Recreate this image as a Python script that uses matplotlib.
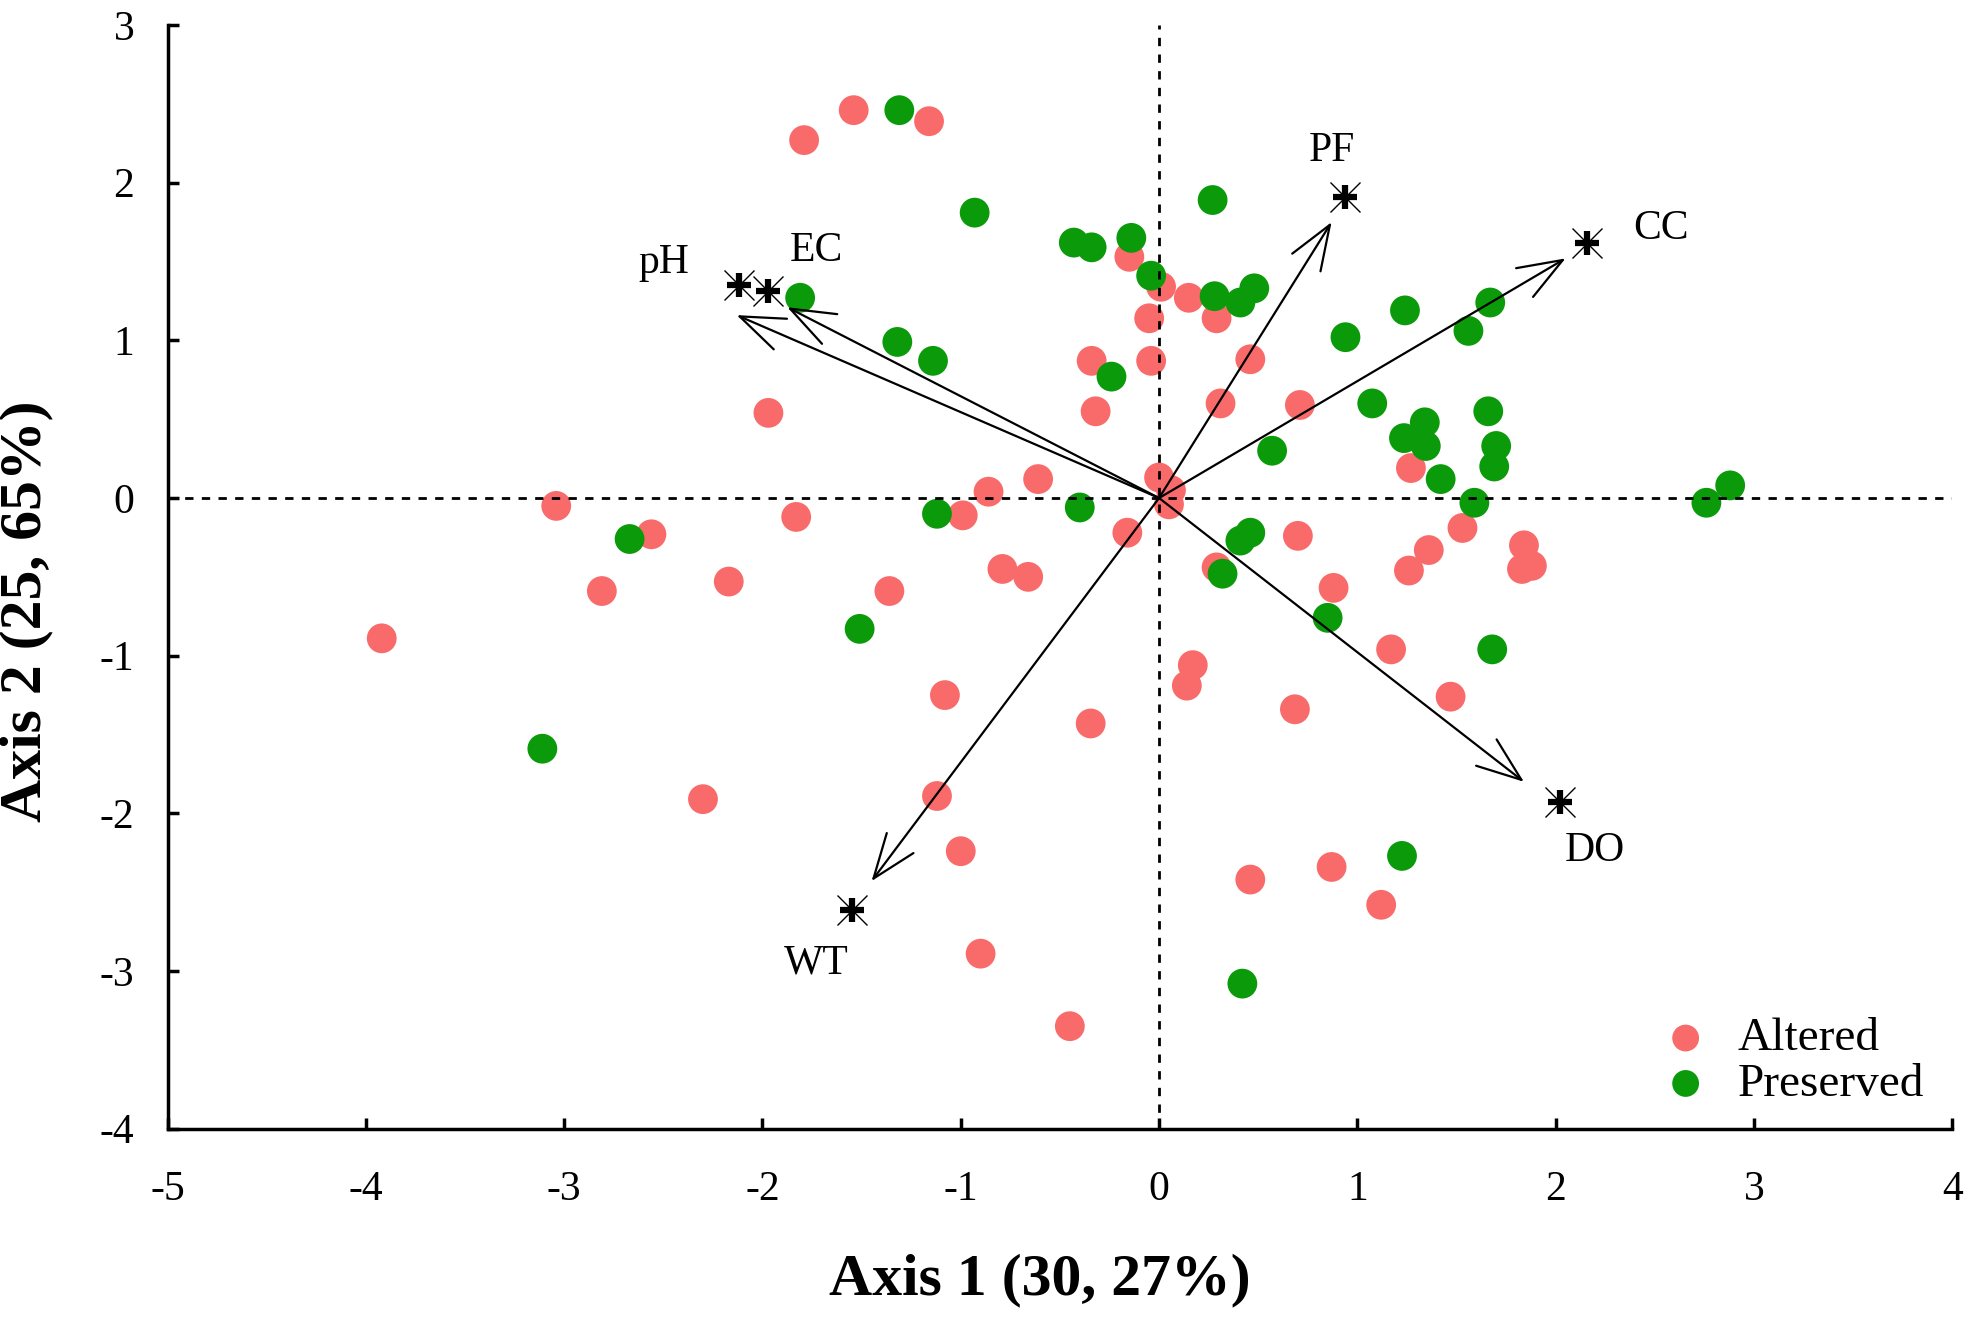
import numpy as np
import matplotlib
matplotlib.use("Agg")
import matplotlib.pyplot as plt

plt.rcParams['font.family'] = ['Liberation Serif', 'DejaVu Serif']
plt.rcParams['axes.unicode_minus'] = False

# site scores (Axis 1, Axis 2)
altered_x = [-1.79, -1.54, -1.16, -1.97, -3.04, -2.56, -1.83, -2.81, -2.17, -3.92,
             -2.30, -0.15, 0.01, 0.15, 0.29, -0.05, -0.34, -0.04, -0.32, 0.46,
             0.31, 0.71, 0.00, 0.06, 0.05, -0.61, -0.86, -0.99, -0.16, 0.70,
             1.27, 1.53, 1.36, 1.26, 1.84, 1.83, 1.88, 1.17, 1.47, 1.12,
             -0.79, -0.66, -1.36, -1.08, -0.345, -1.12, -1.00, -0.90, -0.45, 0.17,
             0.14, 0.685, 0.46, 0.87, 0.29, 0.88]
altered_y = [2.27, 2.46, 2.39, 0.54, -0.05, -0.23, -0.12, -0.59, -0.53, -0.89,
             -1.91, 1.53, 1.34, 1.27, 1.14, 1.14, 0.87, 0.87, 0.55, 0.88,
             0.60, 0.59, 0.13, 0.05, -0.04, 0.12, 0.04, -0.11, -0.22, -0.24,
             0.19, -0.19, -0.33, -0.46, -0.30, -0.45, -0.43, -0.96, -1.26, -2.58,
             -0.45, -0.50, -0.59, -1.25, -1.43, -1.89, -2.24, -2.89, -3.35, -1.06,
             -1.19, -1.34, -2.42, -2.34, -0.44, -0.57]

preserved_x = [-1.81, -2.67, -3.11, -1.31, -0.93, -0.43, -0.34, -0.14, -0.04, 0.28,
               0.41, 0.48, 0.27, -1.32, -1.14, -0.24, 0.57, 0.94, -1.12, -0.40,
               0.46, 0.41, 1.24, 1.67, 1.56, 1.075, 1.66, 1.34, 1.235, 1.345,
               1.70, 1.69, 1.42, 1.59, 2.76, 2.88, 1.68, 1.225, -1.51, 0.32,
               0.85, 0.42]
preserved_y = [1.27, -0.26, -1.59, 2.46, 1.81, 1.62, 1.59, 1.65, 1.41, 1.28,
               1.24, 1.33, 1.89, 0.99, 0.87, 0.77, 0.30, 1.02, -0.10, -0.06,
               -0.22, -0.27, 1.19, 1.24, 1.06, 0.60, 0.55, 0.48, 0.38, 0.33,
               0.33, 0.20, 0.12, -0.03, -0.03, 0.08, -0.96, -2.27, -0.83, -0.48,
               -0.76, -3.08]

# environmental variables
var_names = ['pH', 'EC', 'PF', 'CC', 'DO', 'WT']
var_x = [-2.12, -1.97, 0.94, 2.16, 2.02, -1.55]
var_y = [1.35, 1.31, 1.91, 1.62, -1.93, -2.61]
tip_x = [-2.13, -1.875, 0.87, 2.05, 1.84, -1.45]
tip_y = [1.16, 1.21, 1.75, 1.52, -1.80, -2.43]
lab_x = [-2.50, -1.73, 0.87, 2.53, 2.20, -1.73]
lab_y = [1.49, 1.57, 2.20, 1.71, -2.24, -2.95]

red = '#F96B6B'
green = '#0A9A0A'

fig = plt.figure(figsize=(19.76, 13.17), dpi=100)
ax = fig.add_axes([0.0848, 0.143, 0.9032, 0.838])

ax.scatter(altered_x, altered_y, s=460, color=red, edgecolors='none', zorder=2, label='Altered')
ax.scatter(preserved_x, preserved_y, s=460, color=green, edgecolors='none', zorder=3, label='Preserved')

ax.axhline(0, color='black', lw=2, ls=(0, (3, 3)), zorder=4)
ax.axvline(0, color='black', lw=2, ls=(0, (3, 3)), zorder=4)

for i in range(len(var_names)):
    ax.annotate('', xy=(tip_x[i], tip_y[i]), xytext=(0, 0),
                arrowprops=dict(arrowstyle='->,head_length=0.8,head_width=0.3',
                                color='black', lw=1.6, mutation_scale=40,
                                shrinkA=0, shrinkB=0),
                zorder=5)
    ax.plot(var_x[i], var_y[i], marker='+', color='black', ms=17, mew=4.5, zorder=6)
    ax.plot(var_x[i], var_y[i], marker='x', color='black', ms=21, mew=1.0, zorder=6)
    ax.text(lab_x[i], lab_y[i], var_names[i], fontsize=30, ha='center', va='center', zorder=7)

ax.set_xlim(-5, 4)
ax.set_ylim(-4, 3)
ax.set_xticks(np.arange(-5, 5, 1))
ax.set_yticks(np.arange(-4, 4, 1))
ax.spines['top'].set_visible(False)
ax.spines['right'].set_visible(False)
ax.spines['left'].set_linewidth(2.5)
ax.spines['bottom'].set_linewidth(2.5)
ax.tick_params(direction='in', length=8, width=2.5, labelsize=30)
ax.tick_params(axis='x', pad=30)
ax.tick_params(axis='y', pad=24)

ax.set_xlabel('Axis 1 (30, 27%)', fontsize=43, fontweight='bold')
ax.set_ylabel('Axis 2 (25, 65%)', fontsize=43, fontweight='bold')
ax.xaxis.set_label_coords(0.489, -0.113)
ax.yaxis.set_label_coords(-0.064, 0.469)

ax.legend(loc='lower right', bbox_to_anchor=(1.0, -0.005), frameon=False, fontsize=34,
          handletextpad=0.1, labelspacing=0.05, borderaxespad=0.2, markerscale=0.9)

fig.savefig('out.png', dpi=100)
